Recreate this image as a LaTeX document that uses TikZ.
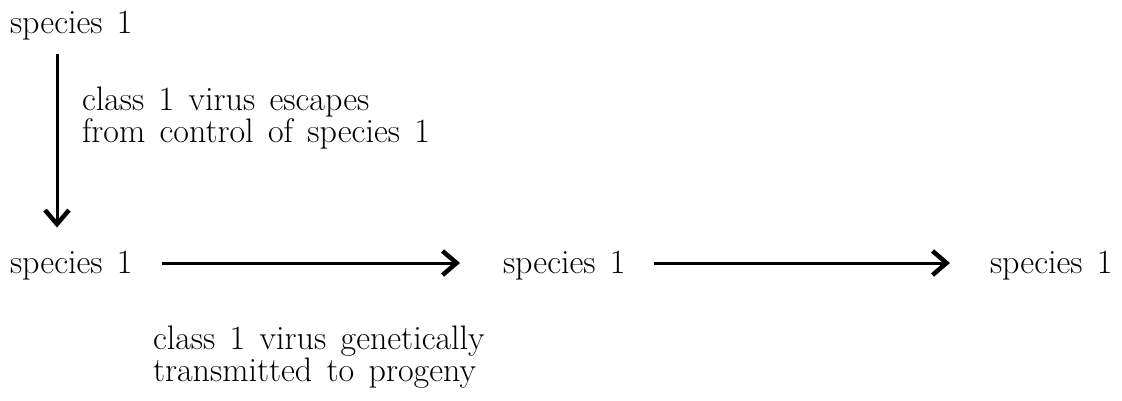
\documentclass[tikz,border=0pt]{standalone}
\usepackage{fontspec}
\setmainfont[WordSpace=1.4]{Latin Modern Roman}
\usetikzlibrary{arrows.meta}
\begin{document}
\begin{tikzpicture}[x=1pt,y=-1pt,
  txt/.style={anchor=base west,inner sep=0pt,outer sep=0pt,
    font=\fontsize{34}{27}\selectfont},
  note/.style={txt,align=left,font=\fontsize{34}{28}\selectfont},
  arr/.style={line width=3pt,
    -{Straight Barb[length=14pt,width=24pt,line width=4.5pt]}}]
\useasboundingbox (0,0) rectangle (1122,400);
% species labels
\node[txt] (s0) at (10,33)  {species 1};
\node[txt] (s1) at (10,273) {species 1};
\node[txt] (s2) at (503,273) {species 1};
\node[txt] (s3) at (990,273) {species 1};
% process descriptions (anchored on the baseline of their last line)
\node[note] (esc) at (82,142) {class 1 virus escapes\\from control of species 1};
\node[note] (gen) at (153,381) {class 1 virus genetically\\transmitted to progeny};
% escape arrow
\draw[arr,shorten <=14pt,shorten >=23pt]
  ([xshift=47pt]s0.south west) -- ([xshift=47pt]s0.south west |- s1.north);
% transmission arrows
\draw[arr,shorten <=29pt,shorten >=43pt]
  ([yshift=10pt]s1.base east) -- ([yshift=10pt]s2.base west);
\draw[arr,shorten <=28pt,shorten >=40pt]
  ([yshift=10pt]s2.base east) -- ([yshift=10pt]s3.base west);
\end{tikzpicture}
\end{document}
